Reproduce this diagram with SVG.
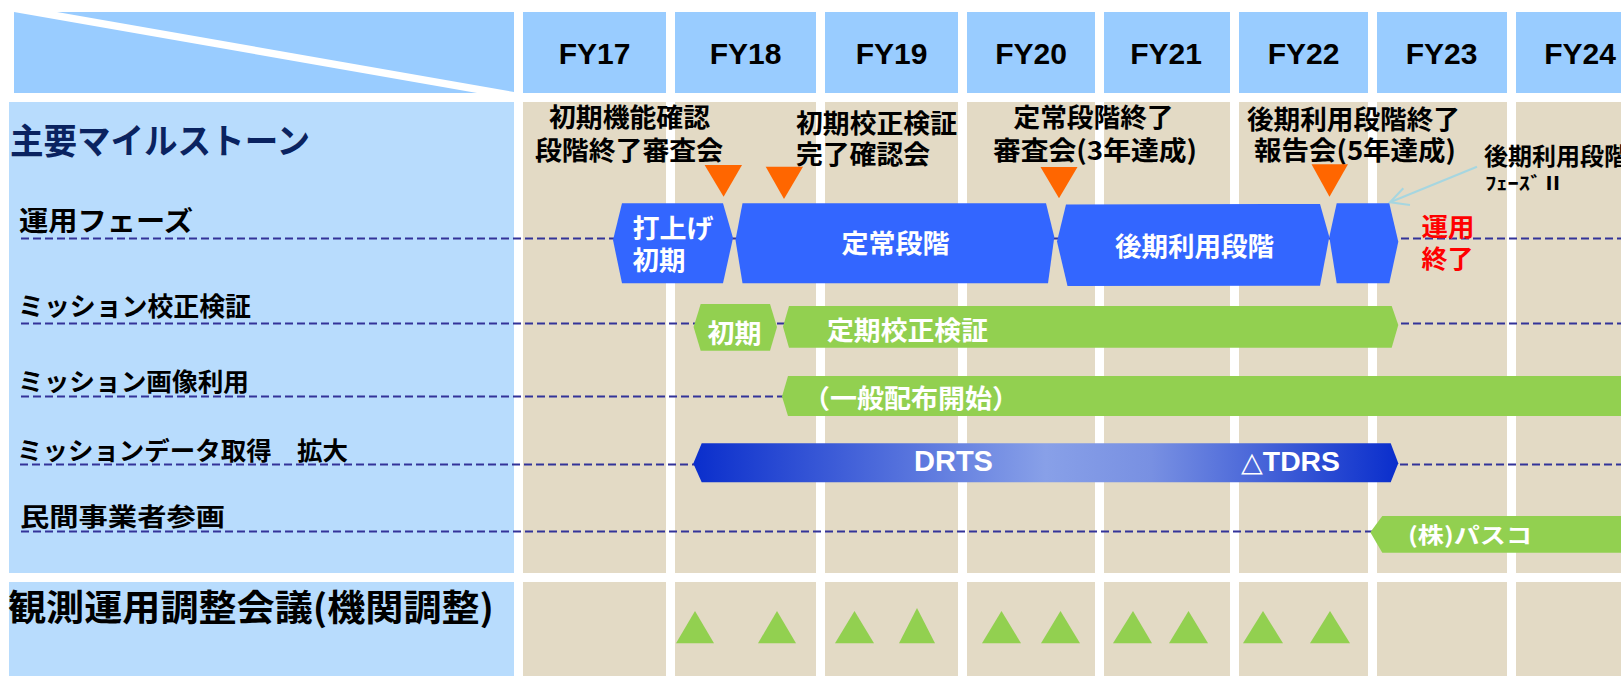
<svg xmlns="http://www.w3.org/2000/svg" width="1621" height="676" viewBox="0 0 1621 676">
<style>
.hdr{fill:#99CCFF}
.lcol{fill:#B8DCFD}
.col{fill:#E3DAC5}
.fy{font-family:"Liberation Sans",Arial,sans-serif;font-weight:bold;font-size:30px;text-anchor:middle;fill:#000}
.jp{font-family:"Noto Sans CJK JP","Noto Sans CJK SC",sans-serif;font-weight:bold}
.lb{fill:#000}
.wt{fill:#fff}
.blue{fill:#3366FF}
.green{fill:#92D050}
.ms{fill:#FF6600}
.mt{fill:#92D050}
.dash{stroke:#333399;stroke-width:2;stroke-dasharray:8 4;fill:none}
</style>
<defs>
<linearGradient id="gDrts" x1="693" y1="0" x2="1398" y2="0" gradientUnits="userSpaceOnUse">
<stop offset="0" stop-color="#0A2ECC"/>
<stop offset="0.5" stop-color="#88A0E8"/>
<stop offset="0.65" stop-color="#7890E2"/>
<stop offset="1" stop-color="#0A2ECC"/>
</linearGradient>
</defs>
<rect x="0" y="0" width="1621" height="676" fill="#fff"/>
<g id="header">
<rect class="hdr" x="14" y="12" width="500" height="81"/>
<polygon points="14,12 57,12 514,92 514,93 477,93" fill="#fff"/>
<rect class="hdr" x="523" y="12" width="143" height="81"/>
<rect class="hdr" x="675" y="12" width="141" height="81"/>
<rect class="hdr" x="825" y="12" width="133" height="81"/>
<rect class="hdr" x="967" y="12" width="128" height="81"/>
<rect class="hdr" x="1104" y="12" width="126" height="81"/>
<rect class="hdr" x="1239" y="12" width="129" height="81"/>
<rect class="hdr" x="1377" y="12" width="130" height="81"/>
<rect class="hdr" x="1516" y="12" width="105" height="81"/>
<text class="fy" x="594.5" y="64">FY17</text>
<text class="fy" x="745.5" y="64">FY18</text>
<text class="fy" x="891.5" y="64">FY19</text>
<text class="fy" x="1031" y="64">FY20</text>
<text class="fy" x="1166" y="64">FY21</text>
<text class="fy" x="1303.5" y="64">FY22</text>
<text class="fy" x="1441.5" y="64">FY23</text>
<text class="fy" x="1580" y="64">FY24</text>
</g>
<g id="body">
<rect class="lcol" x="9" y="102" width="505" height="471"/>
<rect class="col" x="523" y="102" width="143" height="471"/>
<rect class="col" x="675" y="102" width="141" height="471"/>
<rect class="col" x="825" y="102" width="133" height="471"/>
<rect class="col" x="967" y="102" width="128" height="471"/>
<rect class="col" x="1104" y="102" width="126" height="471"/>
<rect class="col" x="1239" y="102" width="129" height="471"/>
<rect class="col" x="1377" y="102" width="130" height="471"/>
<rect class="col" x="1516" y="102" width="105" height="471"/>
<rect class="lcol" x="9" y="582" width="505" height="94"/>
<rect class="col" x="523" y="582" width="143" height="94"/>
<rect class="col" x="675" y="582" width="141" height="94"/>
<rect class="col" x="825" y="582" width="133" height="94"/>
<rect class="col" x="967" y="582" width="128" height="94"/>
<rect class="col" x="1104" y="582" width="126" height="94"/>
<rect class="col" x="1239" y="582" width="129" height="94"/>
<rect class="col" x="1377" y="582" width="130" height="94"/>
<rect class="col" x="1516" y="582" width="105" height="94"/>
</g>
<g id="row-labels" class="jp lb">
<text x="10" y="154" font-size="35" fill="#0A2360" textLength="300" lengthAdjust="spacingAndGlyphs">主要マイルストーン</text>
<text x="19" y="231" font-size="27" textLength="174" lengthAdjust="spacingAndGlyphs">運用フェーズ</text>
<text x="18" y="316" font-size="26" textLength="233" lengthAdjust="spacingAndGlyphs">ミッション校正検証</text>
<text x="18" y="391" font-size="25" textLength="231" lengthAdjust="spacingAndGlyphs">ミッション画像利用</text>
<text x="17" y="460" font-size="25" textLength="331" lengthAdjust="spacingAndGlyphs">ミッションデータ取得　拡大</text>
<text x="20" y="526" font-size="25" textLength="205" lengthAdjust="spacingAndGlyphs">民間事業者参画</text>
<text x="8" y="621" font-size="36" textLength="486" lengthAdjust="spacingAndGlyphs">観測運用調整会議(機関調整)</text>
</g>
<g id="connectors">
<line class="dash" x1="21" y1="238.5" x2="1621" y2="238.5"/>
<line class="dash" x1="21" y1="323.5" x2="1621" y2="323.5"/>
<line class="dash" x1="21" y1="396.5" x2="784" y2="396.5"/>
<line class="dash" x1="20" y1="464.5" x2="1621" y2="464.5"/>
<line class="dash" x1="21" y1="531.5" x2="1372" y2="531.5"/>
<line x1="1477" y1="166.7" x2="1390" y2="202.3" stroke="#A6D6E0" stroke-width="2"/>
<polyline points="1403.3,188.3 1390,202.3 1410,205" fill="none" stroke="#A6D6E0" stroke-width="2"/>
</g>
<g id="milestones" class="jp lb" font-size="26">
<g id="ms1">
<text x="549" y="127" textLength="161" lengthAdjust="spacingAndGlyphs">初期機能確認</text>
<text x="535" y="159.5" textLength="188" lengthAdjust="spacingAndGlyphs">段階終了審査会</text>
<polygon class="ms" points="704.6,165 742,165 723.6,196.7"/>
</g>
<g id="ms2">
<text x="796" y="133" textLength="161" lengthAdjust="spacingAndGlyphs">初期校正検証</text>
<text x="796" y="163.5" textLength="134" lengthAdjust="spacingAndGlyphs">完了確認会</text>
<polygon class="ms" points="765.7,166.7 803,166.7 784,199"/>
</g>
<g id="ms3">
<text x="1013.5" y="127" textLength="160" lengthAdjust="spacingAndGlyphs">定常段階終了</text>
<text x="993" y="159.5" textLength="204" lengthAdjust="spacingAndGlyphs">審査会(3年達成)</text>
<polygon class="ms" points="1040.5,167 1077.5,167 1059,198.3"/>
</g>
<g id="ms4">
<text x="1247" y="128.5" textLength="213" lengthAdjust="spacingAndGlyphs">後期利用段階終了</text>
<text x="1254" y="160" textLength="202" lengthAdjust="spacingAndGlyphs">報告会(5年達成)</text>
<polygon class="ms" points="1311.5,164.3 1348,164.3 1329.5,196.7"/>
</g>
<g id="ms5">
<text x="1484" y="165" font-size="24">後期利用段階</text>
<text x="1485" y="190" font-size="18" textLength="79" lengthAdjust="spacingAndGlyphs">ﾌｪｰｽﾞⅡ</text>
</g>
</g>
<g id="phase-launch">
<polygon class="blue" points="613,240 622,203.3 723,203.3 733,238 723,283.3 622,283.3"/>
<text class="jp wt" x="632.5" y="238" font-size="26" textLength="81" lengthAdjust="spacingAndGlyphs">打上げ</text>
<text class="jp wt" x="632.5" y="269.5" font-size="26" textLength="53" lengthAdjust="spacingAndGlyphs">初期</text>
</g>
<g id="phase-normal">
<polygon class="blue" points="735.5,240 742.5,203.3 1046,203.3 1054.3,237 1048,283.3 742.5,283.3"/>
<text class="jp wt" x="841.5" y="253" font-size="26" textLength="108" lengthAdjust="spacingAndGlyphs">定常段階</text>
</g>
<g id="phase-late">
<polygon class="blue" points="1057,241.5 1066,204.5 1320,204 1329.3,237 1320,285.7 1067.5,286"/>
<text class="jp wt" x="1115" y="256" font-size="26" textLength="159" lengthAdjust="spacingAndGlyphs">後期利用段階</text>
</g>
<g id="phase-2">
<polygon class="blue" points="1329.3,237 1336.7,203.3 1389.3,203.3 1398.3,241.7 1389.3,283.3 1336.7,283.3"/>
</g>
<g id="end-label">
<text class="jp" x="1421.5" y="236" font-size="25" fill="#FF0000" textLength="53" lengthAdjust="spacingAndGlyphs">運用</text>
<text class="jp" x="1421.5" y="268" font-size="25" fill="#FF0000" textLength="52" lengthAdjust="spacingAndGlyphs">終了</text>
</g>
<g id="calib-initial">
<polygon class="green" points="693.6,327 700.7,304 770,304 777,327 770,350.7 700.7,350.7"/>
<text class="jp wt" x="707.5" y="343" font-size="26" textLength="54" lengthAdjust="spacingAndGlyphs">初期</text>
</g>
<g id="calib-periodic">
<polygon class="green" points="783,326.7 789,306 1391.7,306 1398.3,325 1391.7,347.7 789,347.7"/>
<text class="jp wt" x="827" y="340" font-size="26" textLength="161" lengthAdjust="spacingAndGlyphs">定期校正検証</text>
</g>
<g id="image-use">
<polygon class="green" points="782,396.5 788,376 1621,376 1621,416 788,416"/>
<text class="jp wt" x="803" y="408" font-size="26" textLength="216" lengthAdjust="spacingAndGlyphs">（一般配布開始）</text>
</g>
<g id="data-drts">
<polygon fill="url(#gDrts)" points="693.3,463.5 701.7,443.3 1390.7,443.3 1398.3,463.3 1390.7,482.3 701.7,482.3"/>
<text x="914" y="470.7" font-family="Liberation Sans,Arial,sans-serif" font-weight="bold" font-size="29" fill="#fff">DRTS</text>
<text x="1241" y="470.5" font-family="Liberation Sans,DejaVu Sans,sans-serif" font-weight="bold" font-size="27" fill="#fff" textLength="99" lengthAdjust="spacingAndGlyphs">△TDRS</text>
</g>
<g id="private-pasco">
<polygon class="green" points="1370.3,532.3 1382.3,516 1621,516 1621,552.7 1382.3,552.7"/>
<text class="jp wt" x="1408" y="543" font-size="22" textLength="124" lengthAdjust="spacingAndGlyphs">(株)パスコ</text>
</g>
<g id="meetings">
<polygon class="mt" points="676,643.3 714,643.3 695,611"/>
<polygon class="mt" points="758,643.3 796,643.3 777,611"/>
<polygon class="mt" points="835,643.3 874,643.3 854.5,611"/>
<polygon class="mt" points="899,643.3 935,643.3 917,608"/>
<polygon class="mt" points="982,643.3 1021,643.3 1001.5,611"/>
<polygon class="mt" points="1041,643.3 1080,643.3 1060.5,611"/>
<polygon class="mt" points="1113,643.3 1152,643.3 1133,611"/>
<polygon class="mt" points="1169,643.3 1208,643.3 1188.5,611"/>
<polygon class="mt" points="1243,643.3 1283,643.3 1263,611"/>
<polygon class="mt" points="1310,643.3 1350,643.3 1330,611"/>
</g>
</svg>
